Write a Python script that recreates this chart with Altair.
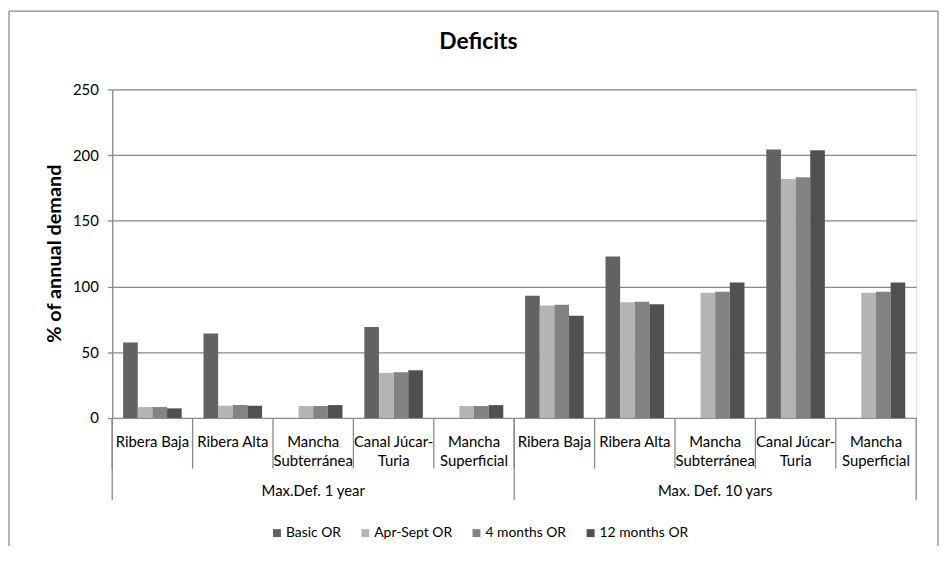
import altair as alt
import pandas as pd

# ---------------- data ----------------
groups = ["Max.Def. 1 year", "Max. Def. 10 yars"]
categories = ["Ribera Baja", "Ribera Alta", "Mancha\nSubterránea",
              "Canal Júcar-\nTuria", "Mancha\nSuperficial"]
series = ["Basic OR", "Apr-Sept OR", "4 months OR", "12 months OR"]
basic_or = [57.5, 64.3, None, 69.3, None, 93.0, 122.8, None, 204.2, None]
apr_sept_or = [8.3, 9.3, 9.1, 34.3, 9.1, 85.5, 88.0, 95.3, 181.8, 95.3]
four_months_or = [8.3, 9.8, 9.1, 34.8, 9.1, 86.2, 88.5, 96.1, 183.1, 96.1]
twelve_months_or = [7.3, 9.3, 9.8, 36.3, 9.8, 77.7, 86.5, 103.1, 203.7, 103.1]
y_ticks = [0, 50, 100, 150, 200, 250]
colors = ["#626262", "#b4b4b4", "#838383", "#505050"]

title_text = "Deficits"
y_title = "% of annual demand"

# ---------------- tables ----------------
keys = [f"{gi}|{ci}" for gi in range(len(groups)) for ci in range(len(categories))]
cat_labels = [c for _ in groups for c in categories]

rows = []
for s, vals in zip(series, [basic_or, apr_sept_or, four_months_or, twelve_months_or]):
    for k, v in zip(keys, vals):
        if v is not None:
            rows.append({"key": k, "series": s, "value": v})
bar_df = pd.DataFrame(rows)

label_df = pd.DataFrame({"key": keys, "label": cat_labels})
group_df = pd.DataFrame({"key": [f"{gi}|2" for gi in range(len(groups))], "group": groups})
outer_df = pd.DataFrame({"key": [f"{gi}|0" for gi in range(len(groups))]})
one = pd.DataFrame({"k": [0]})

W, H = 810, 331
GRID = "#8a8a8a"
FONT = "Lato"

x_scale = alt.Scale(domain=keys, paddingInner=0, paddingOuter=0)
xoff_scale = alt.Scale(domain=series, paddingInner=0, paddingOuter=0.745)

bars = alt.Chart(bar_df).mark_bar().encode(
    x=alt.X("key:N", scale=x_scale, axis=None, sort=keys),
    xOffset=alt.XOffset("series:N", scale=xoff_scale, sort=series),
    y=alt.Y("value:Q", scale=alt.Scale(domain=[0, 250], nice=False),
            axis=alt.Axis(values=y_ticks, title=y_title, grid=True,
                          gridColor=GRID, gridWidth=1.3,
                          domainColor=GRID, domainWidth=1.3,
                          tickColor=GRID, tickWidth=1.3, tickSize=5,
                          labelFont=FONT, labelFontSize=15, labelColor="black",
                          labelPadding=9,
                          titleFont=FONT, titleFontSize=20, titleFontWeight="bold",
                          titleColor="black", titleX=-58, titleY=165,
                          titleAngle=270, titleAlign="center", titleBaseline="middle")),
    color=alt.Color("series:N", sort=series,
                    scale=alt.Scale(domain=series, range=colors),
                    legend=alt.Legend(orient="none", legendX=159, legendY=440,
                                      direction="horizontal", title=None,
                                      symbolType="square", symbolSize=64,
                                      symbolStrokeWidth=0,
                                      labelFont=FONT, labelFontSize=14,
                                      labelColor="black", labelOffset=2,
                                      columnPadding=17)),
)

cat_text = alt.Chart(label_df).mark_text(
    baseline="top", align="center", lineBreak="\n", font=FONT, fontSize=15,
    lineHeight=19, color="black"
).encode(
    x=alt.X("key:N", scale=x_scale, axis=None, sort=keys),
    y=alt.value(H + 17),
    text="label:N",
)

group_text = alt.Chart(group_df).mark_text(
    baseline="middle", align="center", font=FONT, fontSize=15, color="black"
).encode(
    x=alt.X("key:N", scale=x_scale, axis=None, sort=keys),
    y=alt.value(H + 74),
    text="group:N",
)

inner_sep = alt.Chart(label_df).mark_rule(color=GRID, strokeWidth=1.3).encode(
    x=alt.X("key:N", scale=x_scale, axis=None, sort=keys, bandPosition=0),
    y=alt.value(H), y2=alt.value(H + 51),
)
outer_sep = alt.Chart(outer_df).mark_rule(color=GRID, strokeWidth=1.3).encode(
    x=alt.X("key:N", scale=x_scale, axis=None, sort=keys, bandPosition=0),
    y=alt.value(H), y2=alt.value(H + 83),
)
end_sep = alt.Chart(one).mark_rule(color=GRID, strokeWidth=1.3).encode(
    x=alt.value(W), y=alt.value(H), y2=alt.value(H + 83),
)

title = alt.Chart(one).mark_text(
    font=FONT, fontSize=23, fontWeight="bold", color="black",
    align="center", baseline="middle"
).encode(x=alt.value(369), y=alt.value(-48), text=alt.value(title_text))

BC = "#8c8c8c"
left_border = alt.Chart(one).mark_rule(color=BC, strokeWidth=1.3).encode(
    x=alt.value(-104), y=alt.value(-79), y2=alt.value(460))
top_border = alt.Chart(one).mark_rule(color=BC, strokeWidth=1.3).encode(
    x=alt.value(-104), x2=alt.value(832), y=alt.value(-79))
right_border = alt.Chart(one).mark_rule(color=BC, strokeWidth=1.3).encode(
    x=alt.value(832), y=alt.value(-79), y2=alt.value(460))

chart = alt.layer(
    bars, inner_sep, outer_sep, end_sep, cat_text, group_text, title,
    left_border, top_border, right_border
).resolve_scale(x="shared").properties(
    width=W, height=H,
    autosize=alt.AutoSizeParams(type="none"),
    padding={"left": 105, "top": 80, "right": 23, "bottom": 134},
).configure_view(stroke=None).configure(background="white")

chart.save("out.html", embed_options={"renderer": "svg", "actions": False})
